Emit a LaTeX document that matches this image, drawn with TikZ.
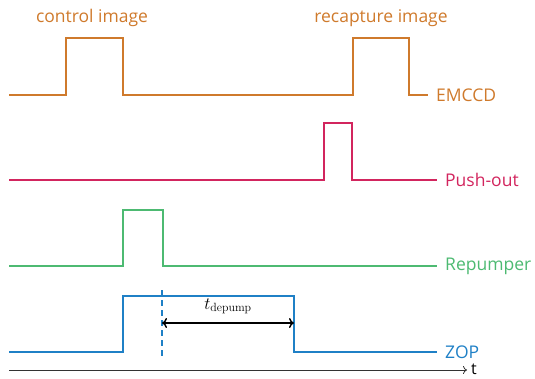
\documentclass[tikz,border=0pt]{standalone}
\usepackage{amsmath}
\usepackage{fontspec}
\setsansfont{Open Sans}
\usepackage{xcolor}
\usetikzlibrary{positioning,arrows.meta}

\definecolor{emccdcol}{HTML}{CF7A2C}
\definecolor{pushcol}{HTML}{D2255E}
\definecolor{repcol}{HTML}{4DBA72}
\definecolor{zopcol}{HTML}{1F80C6}

\tikzset{
  signal/.style={line width=1.5pt},
  siglabel/.style={anchor=west,inner sep=0pt,font=\sffamily\fontsize{17.5}{21}\selectfont},
  toplabel/.style={inner sep=0pt,font=\sffamily\fontsize{17.5}{21}\selectfont},
}

\begin{document}
\begin{tikzpicture}[x=1pt,y=-1pt]
  \useasboundingbox (0,0) rectangle (535,378);
  % EMCCD
  \draw[signal,emccdcol] (9,95) -- (66,95) -- (66,38) -- (123,38) -- (123,95)
    -- (353,95) -- (353,38) -- (409,38) -- (409,95) -- (428,95) coordinate (emccdend);
  \node[siglabel,emccdcol,right=8pt of emccdend] (emccd) {EMCCD};
  \node[toplabel,emccdcol] (ctrlimg) at (92,18) {control image};
  \node[toplabel,emccdcol] (recimg) at (381,18) {recapture image};
  % push-out
  \draw[signal,pushcol] (9,180) -- (324,180) -- (324,123) -- (352,123) -- (352,180)
    -- (437,180) coordinate (pushend);
  \node[siglabel,pushcol,right=8pt of pushend] (push) {Push-out};
  % repumper
  \draw[signal,repcol] (9,266) -- (123,266) -- (123,210) -- (163,210) -- (163,266)
    -- (437,266) coordinate (repend);
  \node[siglabel,repcol,right=8pt of repend] (rep) {Repumper};
  % ZOP
  \draw[signal,zopcol] (9,352) -- (123,352) -- (123,296) -- (294,296) -- (294,352)
    -- (437,352) coordinate (zopend);
  \node[siglabel,zopcol,right=8pt of zopend] (zop) {ZOP};
  % depump time
  \draw[zopcol,line width=1.3pt,dash pattern=on 6pt off 4pt] (162,290) -- (162,358);
  \coordinate (depA) at (162,323);
  \coordinate (depB) at (294,323);
  \draw[{To[length=5pt,width=10pt]}-{To[length=5pt,width=10pt]},line width=1.4pt] (depA) -- (depB)
    node[midway,above=5pt,font=\fontsize{17}{20}\selectfont] (tdep) {$t_{\mathrm{depump}}$};
  % time axis
  \coordinate (tstart) at (9,370);
  \coordinate (tend) at (467,370);
  \draw[-{To[length=4pt,width=8pt]},line width=0.8pt,black!80] (tstart) -- (tend);
  \node[siglabel,font=\sffamily\fontsize{16}{19}\selectfont,right=4pt of tend,yshift=0.5pt] (taxis) {t};
\end{tikzpicture}
\end{document}
